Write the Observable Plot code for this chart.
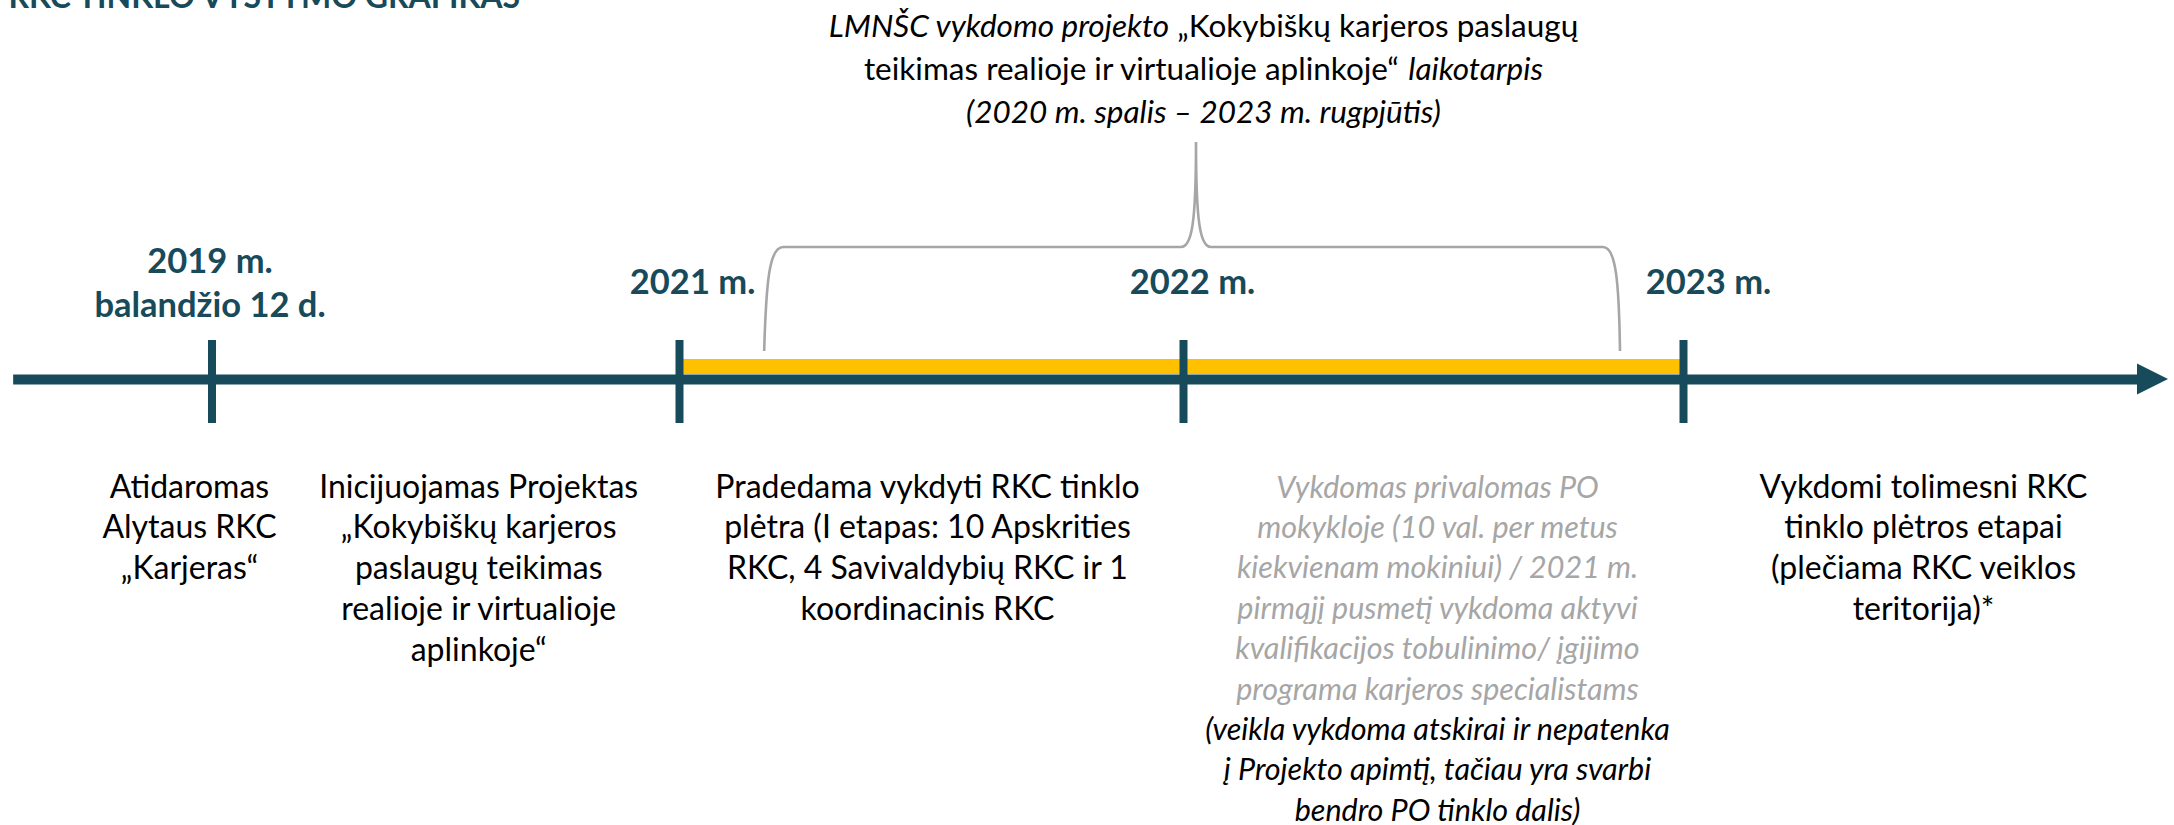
<!DOCTYPE html>
<html>
<head>
<meta charset="utf-8">
<script src="https://cdn.jsdelivr.net/npm/d3@7"></script>
<script src="https://cdn.jsdelivr.net/npm/@observablehq/plot@0.6"></script>
<style>
  html, body { margin: 0; padding: 0; background: #fff; }
  #chart svg { display: block; }
</style>
</head>
<body>
<div id="chart"></div>
<script>
// ---------------- DATA ----------------
const title = "RKC TINKLO VYSTYMO GRAFIKAS";

// timeline milestones (decimal years; 2019-04-12 ≈ 2019.277)
const milestoneYears = [2019.277, 2021, 2022, 2023];
const yearLabelsMain = ["2021 m.", "2022 m.", "2023 m."];
const yearLabelsMainAt = [2021.026, 2022.018, 2023.05];
const firstMilestoneLabel = ["2019 m.", "balandžio 12 d."];

// drawn extent of the timeline arrow (years)
const timelineStart = 2018.546;
const timelineArrowBase = 2023.908;
const timelineArrowTip = 2023.97;

// project period bar and brace (years)
const projectBar = [{start: 2021, end: 2023}];
const braceStart = 2021.169, bracePeak = 2022.026, braceEnd = 2022.874;

// brace annotation (segments: text, italic)
const braceLines = [
  [["LMNŠC vykdomo projekto ", true], ["„Kokybiškų karjeros paslaugų", false]],
  [["teikimas realioje ir virtualioje aplinkoje“ ", false], ["laikotarpis", true]],
  [["(2020 m. spalis – 2023 m. rugpjūtis)", true]]
];
const braceTextAt = 2022.04;

// descriptions under the timeline
const descAt = [2019.194, 2020.26, 2021.492, 2022.508, 2023.48];
const desc1 = ["Atidaromas", "Alytaus RKC", "„Karjeras“"];
const desc2 = ["Inicijuojamas Projektas", "„Kokybiškų karjeros", "paslaugų teikimas", "realioje ir virtualioje", "aplinkoje“"];
const desc3 = ["Pradedama vykdyti RKC tinklo", "plėtra (I etapas: 10 Apskrities", "RKC, 4 Savivaldybių RKC ir 1", "koordinacinis RKC"];
const desc4Gray = ["Vykdomas privalomas PO", "mokykloje (10 val. per metus", "kiekvienam mokiniui) / 2021 m.", "pirmąjį pusmetį vykdoma aktyvi", "kvalifikacijos tobulinimo/ įgijimo", "programa karjeros specialistams"];
const desc4Note = ["(veikla vykdoma atskirai ir nepatenka", "į Projekto apimtį, tačiau yra svarbi", "bendro PO tinklo dalis)"];
const desc5 = ["Vykdomi tolimesni RKC", "tinklo plėtros etapai", "(plečiama RKC veiklos", "teritorija)*"];

// ---------------- STYLE ----------------
const FONT = "Lato, 'Open Sans', sans-serif";
const FS = 32;          // body text size
const FSI = 30.5;       // italic note text size
const FSBR = 31.5;      // brace annotation size
const FSB = 34.5;       // bold year labels
const TEAL = "#174A5A";
const YELLOW = "#FFC000";
const GRAY = "#A6A6A6";
const W = 2174, H = 825;

// layout rows (pixels from top)
const AXIS_Y = 379, TICK_Y1 = 340, TICK_Y2 = 423;
const BAR_Y1 = 359, BAR_Y2 = 374;
const BRACE_BOTTOM = 351, BRACE_H = 247, BRACE_TOP = 142;
const DESC_Y0 = 497, DESC_LH = 40.8, DESC4_LH = 40.4;
const BRACE_TXT_Y0 = 36, BRACE_TXT_LH = 43;

function rows(lines, x, y0, lh) {
  return lines.map((t, i) => ({t, x, y: y0 + i * lh}));
}

const ctx = document.createElement("canvas").getContext("2d");
function measure(text, italic) {
  ctx.font = `${italic ? "italic " : ""}${FSBR}px ${FONT}`;
  return ctx.measureText(text).width;
}

const textBase = {text: "t", x: "x", y: "y", lineAnchor: "bottom", textAnchor: "middle", fontFamily: FONT, fontSize: FS};

// brace annotation marks: each segment is placed so the whole line is centred
const braceMarks = [];
braceLines.forEach((segs, li) => {
  const widths = segs.map(([t, it]) => measure(t, it));
  const total = d3.sum(widths);
  let off = -total / 2;
  segs.forEach(([t, it], si) => {
    braceMarks.push(Plot.text([{t, x: braceTextAt, y: BRACE_TXT_Y0 + li * BRACE_TXT_LH}], {
      ...textBase, textAnchor: "start", dx: off, fontSize: FSBR, fill: "#000", fontStyle: it ? "italic" : "normal"
    }));
    off += widths[si];
  });
});

// brace drawn through the x scale
const braceMark = (index, {x}) => {
  const a = x(braceStart), m = x(bracePeak), b = x(braceEnd);
  const yb = BRACE_BOTTOM, yh = BRACE_H, yp = BRACE_TOP;
  const d = `M${a},${yb} C${a + 2},${yh + 35} ${a + 5},${yh} ${a + 19},${yh}` +
            ` L${m - 15},${yh} C${m - 4},${yh} ${m},${yh - 25} ${m},${yp}` +
            ` C${m},${yh - 25} ${m + 4},${yh} ${m + 15},${yh}` +
            ` L${b - 17},${yh} C${b - 4},${yh} ${b - 1},${yh + 35} ${b},${yb}`;
  const p = document.createElementNS("http://www.w3.org/2000/svg", "path");
  p.setAttribute("d", d);
  p.setAttribute("fill", "none");
  p.setAttribute("stroke", GRAY);
  p.setAttribute("stroke-width", 2.6);
  return p;
};

const chart = Plot.plot({
  width: W,
  height: H,
  margin: 0,
  style: {background: "#fff", overflow: "hidden"},
  x: {type: "linear", domain: [2019.277, 2021, 2022, 2023], range: [211.5, 679, 1183, 1683], axis: null},
  y: {type: "identity"},
  marks: [
    // clipped title at the very top
    Plot.text([title], {frameAnchor: "top-left", textAnchor: "start", lineAnchor: "bottom", dx: 8, dy: 7,
      fontFamily: FONT, fontWeight: "bold", fontSize: 32, fill: TEAL}),
    // project period bar
    Plot.rect(projectBar, {x1: "start", x2: "end", y1: BAR_Y1, y2: BAR_Y2, fill: YELLOW}),
    // main timeline
    Plot.ruleY([AXIS_Y], {x1: timelineStart, x2: timelineArrowBase + 0.005, stroke: TEAL, strokeWidth: 10}),
    Plot.areaY([{x: timelineArrowBase, lo: AXIS_Y - 15.5, hi: AXIS_Y + 15.5}, {x: timelineArrowTip, lo: AXIS_Y, hi: AXIS_Y}],
      {x: "x", y1: "lo", y2: "hi", fill: TEAL}),
    Plot.ruleX(milestoneYears, {y1: TICK_Y1, y2: TICK_Y2, stroke: TEAL, strokeWidth: 8}),
    // brace
    braceMark,
    ...braceMarks,
    // year labels
    Plot.text(rows(firstMilestoneLabel, milestoneYears[0], 272, 44), {...textBase, dx: -2, fontWeight: "bold", fontSize: FSB, fill: TEAL}),
    Plot.text(yearLabelsMain.map((t, i) => ({t, x: yearLabelsMainAt[i], y: 293})), {...textBase, fontWeight: "bold", fontSize: FSB, fill: TEAL}),
    // descriptions
    Plot.text(rows(desc1, descAt[0], DESC_Y0, DESC_LH), {...textBase, fill: "#000"}),
    Plot.text(rows(desc2, descAt[1], DESC_Y0, DESC_LH), {...textBase, fill: "#000"}),
    Plot.text(rows(desc3, descAt[2], DESC_Y0, DESC_LH), {...textBase, fill: "#000"}),
    Plot.text(rows(desc4Gray, descAt[3], DESC_Y0, DESC4_LH), {...textBase, fontSize: FSI, fill: GRAY, fontStyle: "italic"}),
    Plot.text(rows(desc4Note, descAt[3], DESC_Y0 + desc4Gray.length * DESC4_LH, DESC4_LH), {...textBase, fontSize: FSI, fill: "#000", fontStyle: "italic"}),
    Plot.text(rows(desc5, descAt[4], DESC_Y0, DESC_LH), {...textBase, fill: "#000"})
  ]
});
document.getElementById("chart").appendChild(chart);
</script>
</body>
</html>
